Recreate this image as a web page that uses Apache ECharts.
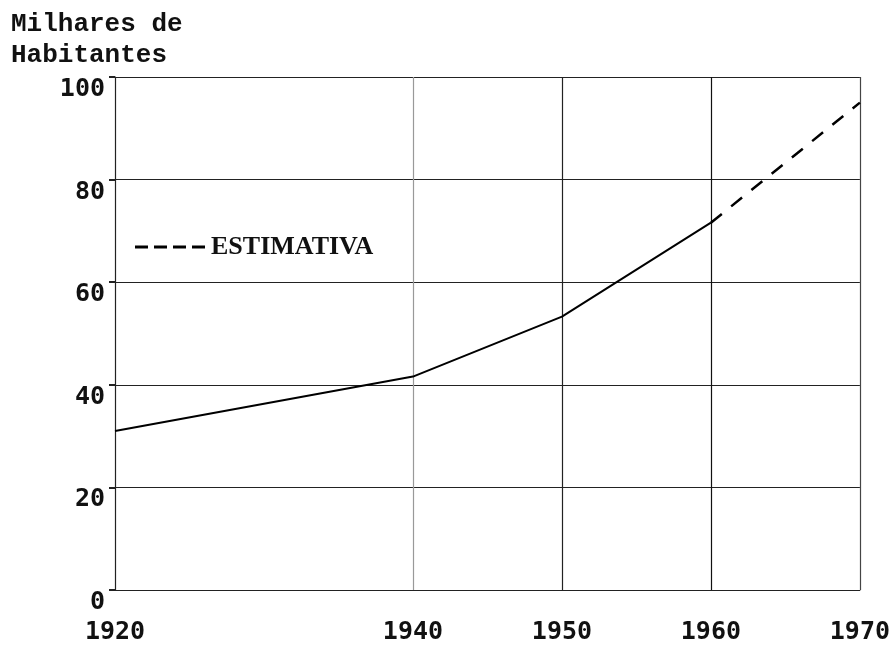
<!DOCTYPE html>
<html>
<head>
<meta charset="utf-8">
<script src="https://cdn.jsdelivr.net/npm/echarts@6/dist/echarts.min.js"></script>
<style>
  html, body { margin: 0; padding: 0; background: #fff; }
  #chart { width: 893px; height: 645px; }
</style>
</head>
<body>
<div id="chart"></div>
<script>
// anos e população (milhares de habitantes)
const anos = [1920, 1940, 1950, 1960];
const populacao = [31, 41.6, 53.3, 71.6];
const anosEstimativa = [1960, 1970];
const estimativa = [71.6, 95];
const xTicks = [1920, 1940, 1950, 1960, 1970];
const yTicks = [0, 20, 40, 60, 80, 100];

const chart = echarts.init(document.getElementById('chart'));

const toPairs = (xs, ys) => xs.map((x, i) => [x, ys[i]]);
const numFont = 'DejaVu Sans Mono';
// quatro traços para a legenda da estimativa
const dashIcon = 'path://M0,0h13v3h-13z M19,0h13v3h-13z M38,0h13v3h-13z M57,0h13v3h-13z';

const option = {
  backgroundColor: '#ffffff',
  animation: false,
  title: {
    text: 'Milhares de\nHabitantes',
    left: 6,
    top: 4,
    textStyle: {
      fontFamily: 'Liberation Mono',
      fontWeight: 'bold',
      fontSize: 26,
      lineHeight: 31,
      color: '#111'
    }
  },
  legend: {
    data: [{ name: 'ESTIMATIVA', icon: dashIcon }],
    left: 130,
    top: 229,
    itemWidth: 72,
    itemHeight: 3,
    itemStyle: { color: '#000' },
    textStyle: {
      fontFamily: 'Liberation Serif',
      fontWeight: 'bold',
      fontSize: 26,
      color: '#111'
    }
  },
  grid: {
    left: 115,
    right: 31,
    top: 77,
    bottom: 54
  },
  xAxis: {
    type: 'value',
    min: 1920,
    max: 1970,
    axisLine: { show: true, lineStyle: { color: '#222', width: 1, type: [6, 2] } },
    axisTick: { show: false, customValues: xTicks },
    axisLabel: {
      customValues: xTicks,
      margin: 30,
      fontFamily: numFont,
      fontWeight: 'bold',
      fontSize: 25,
      color: '#111',
      formatter: v => String(v)
    },
    splitLine: {
      show: true,
      lineStyle: { color: ['#222', '#999', '#222', '#111', '#444'], width: 1.2 }
    }
  },
  yAxis: {
    type: 'value',
    min: 0,
    max: 100,
    interval: 20,
    axisLine: { show: true, lineStyle: { color: '#222', width: 1, type: [6, 2] } },
    axisTick: { show: true, length: 6, lineStyle: { color: '#222', width: 2 } },
    axisLabel: {
      margin: 10,
      verticalAlign: 'top',
      fontFamily: numFont,
      fontWeight: 'bold',
      fontSize: 25,
      color: '#111',
      formatter: v => yTicks.includes(v) ? String(v) : ''
    },
    splitLine: { show: true, lineStyle: { color: '#222', width: 1.2 } }
  },
  series: [
    {
      name: 'População',
      type: 'line',
      data: toPairs(anos, populacao),
      symbol: 'none',
      lineStyle: { color: '#000', width: 2 }
    },
    {
      name: 'ESTIMATIVA',
      type: 'line',
      data: toPairs(anosEstimativa, estimativa),
      symbol: 'none',
      itemStyle: { color: '#000' },
      lineStyle: { color: '#000', width: 2.5, type: [14, 12] }
    }
  ]
};

chart.setOption(option);
</script>
</body>
</html>
